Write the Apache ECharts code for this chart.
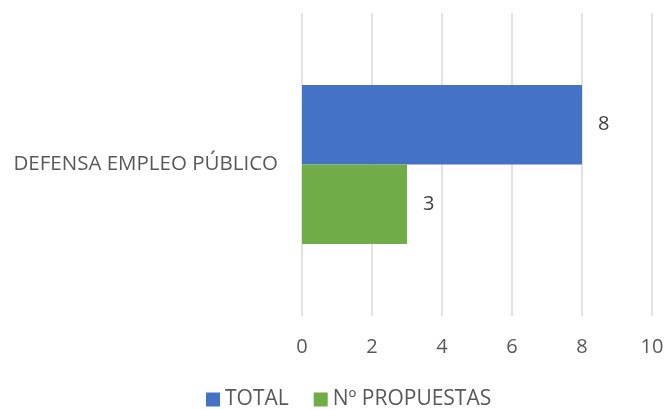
<!DOCTYPE html>
<html>
<head>
<meta charset="utf-8">
<script src="https://cdn.jsdelivr.net/npm/echarts@6/dist/echarts.min.js"></script>
<style>
  html, body { margin: 0; padding: 0; background: #fff; }
  #chart { width: 667px; height: 410px; }
</style>
</head>
<body>
<div id="chart"></div>
<script>
  // datos
  var categorias = ['DEFENSA EMPLEO PÚBLICO'];
  var totalValores = [8];
  var propuestasValores = [3];
  var ticksX = [0, 2, 4, 6, 8, 10];

  var fuente = '"Open Sans", "Noto Sans", sans-serif';
  var gris = '#595959';

  var chart = echarts.init(document.getElementById('chart'));
  chart.setOption({
    animation: false,
    textStyle: { fontFamily: fuente },
    grid: { left: 302, right: 15, top: 13, bottom: 94, containLabel: false },
    legend: {
      top: 389,
      left: 206,
      padding: 0,
      itemWidth: 14,
      itemHeight: 14,
      itemGap: 25,
      icon: 'rect',
      textStyle: { color: gris, fontSize: 21, fontFamily: fuente },
      data: ['TOTAL', 'Nº PROPUESTAS']
    },
    xAxis: {
      type: 'value',
      min: ticksX[0],
      max: ticksX[ticksX.length - 1],
      interval: 2,
      axisLine: { show: false },
      axisTick: { show: false },
      splitLine: { lineStyle: { color: '#D9D9D9', width: 1.5 } },
      axisLabel: { color: gris, fontSize: 20, margin: 21, fontFamily: fuente }
    },
    yAxis: {
      type: 'category',
      data: categorias,
      axisLine: { show: false },
      axisTick: { show: false },
      axisLabel: { color: gris, fontSize: 20.5, margin: 24, fontFamily: fuente }
    },
    series: [
      {
        name: 'TOTAL',
        type: 'bar',
        data: totalValores,
        itemStyle: { color: '#4472C4' },
        barGap: '0%',
        barCategoryGap: '47.5%',
        label: { show: true, position: 'right', distance: 16, color: '#404040', fontSize: 20, fontFamily: fuente }
      },
      {
        name: 'Nº PROPUESTAS',
        type: 'bar',
        data: propuestasValores,
        itemStyle: { color: '#70AD47' },
        barGap: '0%',
        barCategoryGap: '47.5%',
        label: { show: true, position: 'right', distance: 16, color: '#404040', fontSize: 20, fontFamily: fuente }
      }
    ]
  });
</script>
</body>
</html>
